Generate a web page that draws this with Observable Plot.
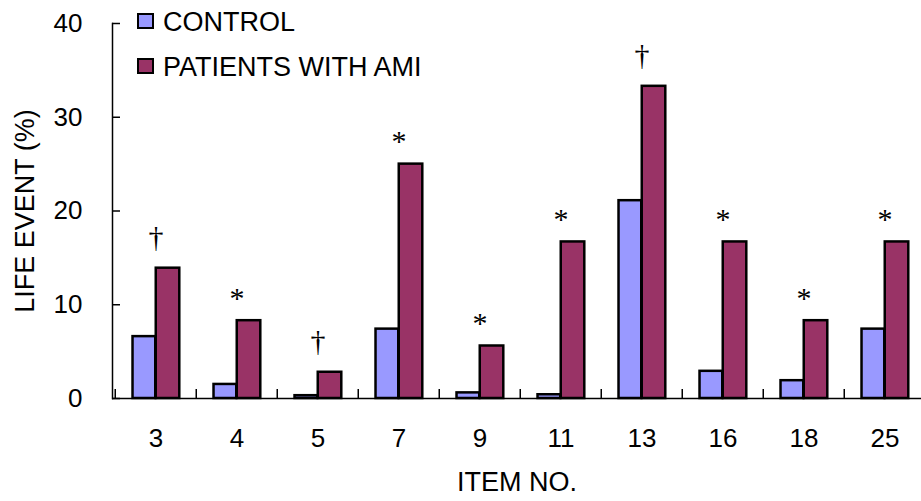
<!DOCTYPE html>
<html><head><meta charset="utf-8">
<script src="https://cdn.jsdelivr.net/npm/d3@7"></script>
<script src="https://cdn.jsdelivr.net/npm/@observablehq/plot@0.6"></script>
<style>
body{margin:0;background:#fff;}
#wrap{position:relative;width:921px;height:501px;font-family:"Liberation Sans",Arial,sans-serif;}
.legend{position:absolute;left:137px;top:0;font-size:27px;line-height:45px;color:#000;}
.legend .row{position:relative;height:45px;padding-left:26px;white-space:nowrap;}
.legend .sw{position:absolute;left:0;top:13px;width:17px;height:16px;box-sizing:border-box;border:2px solid #000;}
</style>
</head><body>
<div id="wrap"></div>
<script>
const items = ["3","4","5","7","9","11","13","16","18","25"];
const control = [6.6, 1.5, 0.3, 7.4, 0.6, 0.4, 21.1, 2.9, 1.9, 7.4];
const ami = [13.9, 8.3, 2.8, 25.0, 5.6, 16.7, 33.3, 16.7, 8.3, 16.7];
const sig = ["†","*","†","*","*","*","†","*","*","*"];
const yTicks = [0, 10, 20, 30, 40];
const seriesNames = ["CONTROL", "PATIENTS WITH AMI"];
const colors = ["#9999FF", "#993366"];
const xLabel = "ITEM NO.";
const yLabel = "LIFE EVENT (%)";

const rows = items.map((item, i) => ({item, control: control[i], ami: ami[i], sig: sig[i]}));
const W = 921, H = 501, mL = 112, mR = 0, mT = 23, mB = 103;
const xRange = [112, 927];
const bw = (xRange[1] - xRange[0]) / items.length;
const yTickLen = 8, xTickLen = 9;

const chart = Plot.plot({
  width: W, height: H,
  marginLeft: mL, marginRight: mR, marginTop: mT, marginBottom: mB,
  style: {fontFamily: "'Liberation Sans', Arial, sans-serif", fontSize: "26px", color: "#000", background: "#fff"},
  x: {domain: items, range: xRange, padding: 0, label: null},
  y: {domain: [0, 40], label: null},
  marks: [
    Plot.barY(rows, {x: "item", y: "control", fill: colors[0], stroke: "#000", strokeWidth: 2.5,
      insetLeft: bw * 0.215, insetRight: bw * 0.5}),
    Plot.barY(rows, {x: "item", y: "ami", fill: colors[1], stroke: "#000", strokeWidth: 2.5,
      insetLeft: bw * 0.5, insetRight: bw * 0.205}),
    Plot.ruleY([0], {stroke: "#000", strokeWidth: 1.5}),
    Plot.frame({anchor: "left", stroke: "#000", strokeWidth: 1.5}),
    // inward tick marks (shifted built-in axis ticks)
    Plot.axisY(yTicks, {tickSize: yTickLen, dx: yTickLen, tickFormat: () => "", label: null, stroke: "#000", strokeWidth: 1.5}),
    Plot.axisX({tickSize: xTickLen, dy: -xTickLen, dx: -bw / 2, tickFormat: () => "", label: null, stroke: "#000", strokeWidth: 1.5}),
    // tick labels
    Plot.axisY(yTicks, {tickSize: 0, tickPadding: 30, label: null, fontSize: 26}),
    Plot.axisX({tickSize: 0, tickPadding: 30, label: null, fontSize: 26}),
    Plot.text(rows.filter(d => d.sig === "*"), {x: "item", y: "ami", text: "sig", dy: -13, lineAnchor: "bottom",
      fontFamily: "'Liberation Serif', 'Times New Roman', serif", fontSize: 30}),
    Plot.text(rows.filter(d => d.sig === "†"), {x: "item", y: "ami", text: "sig", dy: -21, lineAnchor: "bottom",
      fontFamily: "'Liberation Serif', 'Times New Roman', serif", fontSize: 30}),
    Plot.text([xLabel], {frameAnchor: "bottom", dy: 84, textAnchor: "middle", lineAnchor: "middle", fontSize: 27}),
    Plot.text([yLabel], {frameAnchor: "left", dx: -87, rotate: -90, textAnchor: "middle", lineAnchor: "middle", fontSize: 27})
  ]
});
const wrap = document.getElementById("wrap");
wrap.appendChild(chart);
const legend = document.createElement("div");
legend.className = "legend";
seriesNames.forEach((name, i) => {
  const row = document.createElement("div");
  row.className = "row";
  const sw = document.createElement("span");
  sw.className = "sw";
  sw.style.background = colors[i];
  row.appendChild(sw);
  row.appendChild(document.createTextNode(name));
  legend.appendChild(row);
});
wrap.appendChild(legend);
</script>
</body></html>
